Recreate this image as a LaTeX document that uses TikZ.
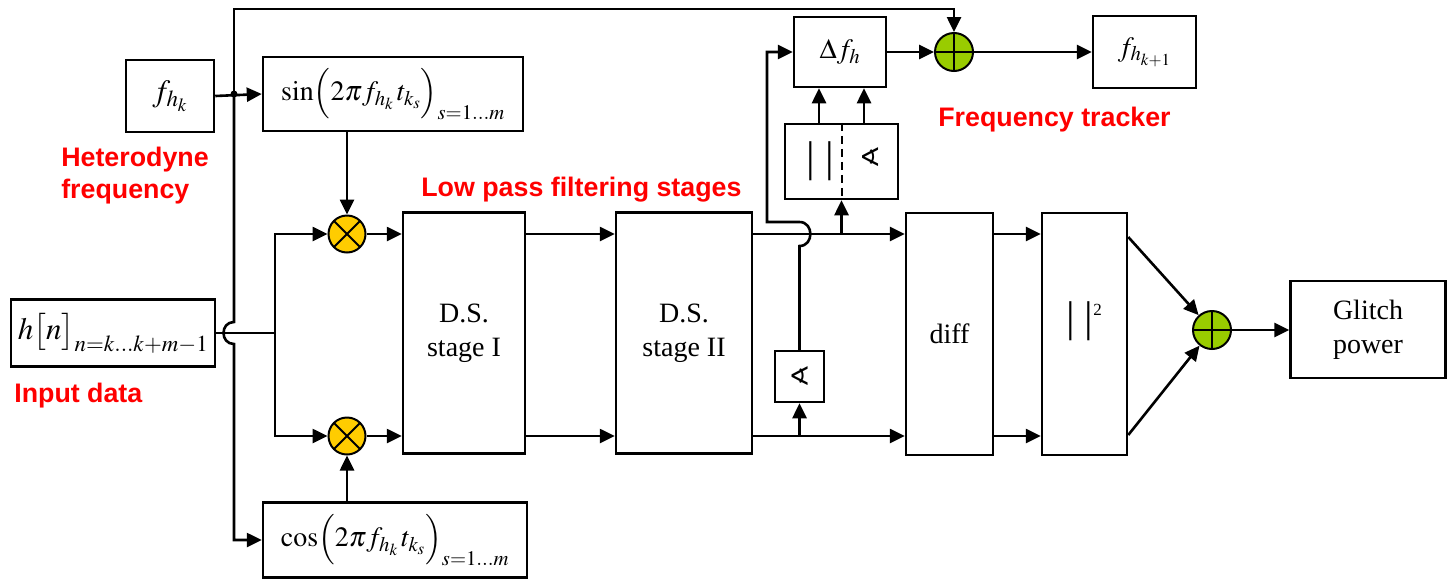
\documentclass[tikz,border=0pt]{standalone}
\usepackage{mathptmx}
\usepackage[no-math]{fontspec}
\setmainfont{Liberation Serif}
\newfontfamily\labfont{Liberation Sans}
\newfontfamily\symfont{DejaVu Sans}
\usetikzlibrary{arrows.meta}
\definecolor{yel}{HTML}{FFCC00}
\definecolor{grn}{HTML}{99CC00}
\definecolor{lred}{HTML}{FF0000}
\begin{document}
\begin{tikzpicture}[x=1pt,y=-1pt,line width=2.6pt,
 >={Triangle[length=15pt,width=14pt]},
 box/.style={draw,line width=2.5pt,inner sep=0pt,align=center,font=\fontsize{28}{34}\selectfont},
 mult/.style={circle,draw,line width=2pt,fill=yel,minimum size=37pt,inner sep=0pt,
   path picture={\draw[line width=2pt] (path picture bounding box.north west)--(path picture bounding box.south east) (path picture bounding box.north east)--(path picture bounding box.south west);}},
 summ/.style={circle,draw,line width=2pt,fill=grn,minimum size=38pt,inner sep=0pt,
   path picture={\draw[line width=2pt] (path picture bounding box.north)--(path picture bounding box.south) (path picture bounding box.east)--(path picture bounding box.west);}},
 lab/.style={text=lred,font=\labfont\bfseries\fontsize{26.8}{32}\selectfont,inner sep=0pt},
 angsym/.style={font=\symfont\fontsize{26}{26}\selectfont,inner sep=0pt},
 bars/.style={font=\fontsize{43}{43}\selectfont,inner sep=0pt}]
\useasboundingbox (0,0) rectangle (1448,579);
% boxes
\node[box,minimum width=88pt,minimum height=72pt,font=\fontsize{31}{34}\selectfont] (fhk) at (170,96) {$f_{h_k}$};
\node[box,minimum width=260pt,minimum height=74pt] (sinb) at (393,94) {$\sin\!\Big(2\pi f_{h_k}\,t_{k_s}\Big)_{s=1\ldots m}$};
\node[box,minimum width=264pt,minimum height=75pt] (cosb) at (395,540) {$\cos\!\Big(2\pi f_{h_k}\,t_{k_s}\Big)_{s=1\ldots m}$};
\node[box,minimum width=204pt,minimum height=67pt,font=\fontsize{31}{34}\selectfont] (hn) at (113,333) {$h\bigl[n\bigr]_{n=k\ldots k+m-1}$};
\node[mult] (m1) at (347,234) {};
\node[mult] (m2) at (347,436) {};
\node[box,minimum width=122pt,minimum height=241pt] (ds1) at (464,333) {D.S.\\stage I};
\node[box,minimum width=136pt,minimum height=241pt] (ds2) at (684,333) {D.S.\\stage II};
\node[box,minimum width=87pt,minimum height=242pt] (diff) at (949.5,334) {diff};
\node[box,minimum width=85pt,minimum height=242pt] (sq) at (1084.5,334) {};
\node[bars] (sqt) at (1084,321) {|\hspace{10pt}|\raisebox{16pt}{\fontsize{17}{17}\selectfont 2}};
\node[summ] (s2) at (1212,330) {};
\node[box,minimum width=155pt,minimum height=97pt] (gp) at (1368,329.5) {Glitch\\power};
\node[box,minimum width=92pt,minimum height=70pt] (df) at (840,52) {$\Delta f_h$};
\node[summ] (s1) at (954,52) {};
\node[box,minimum width=103pt,minimum height=72pt] (fk1) at (1144.5,52) {$f_{h_{k+1}}$};
\node[box,minimum width=113pt,minimum height=75pt] (dbox) at (841.5,161.5) {};
\draw[dash pattern=on 8pt off 5pt,line width=2pt] (dbox.north) -- (dbox.south);
\node[bars] (dbars) at (820.5,161.5) {|\hspace{10pt}|};
\node[angsym] (dang) at (870,157) {∢};
\node[box,minimum width=49pt,minimum height=51pt,font=\symfont\fontsize{26}{26}\selectfont] (ang) at (799.5,376.5) {∢};
% labels
\node[lab,anchor=west,align=left] (lhet) at (60,176) {Heterodyne\\frequency};
\node[lab,anchor=west] (linp) at (13,396) {Input data};
\node[lab,anchor=west] (llp) at (420,190) {Low pass filtering stages};
\node[lab,anchor=west] (lft) at (937,120) {Frequency tracker};
% connectors
\coordinate (j) at (234,94);
\draw[->] (fhk.east) -- (sinb.west);
\fill (j) circle[radius=3.5];
\draw[->] (j) -- (234,9) -| (s1.north);
\draw[->] (j) -- (234,322) .. controls (220,322) and (220,344) .. (234,344) -- (234,540) -- (cosb.west);
\coordinate (br) at (275,333);
\draw[line width=1.8pt] (hn.east) -- (br);
\draw[->] (br) |- (m1.west);
\draw[->] (br) |- (m2.west);
\draw[->] (sinb.south -| m1) -- (m1.north);
\draw[->] (cosb.north -| m2) -- (m2.south);
\draw[->] (m1.east) -- (ds1.west |- m1);
\draw[->] (m2.east) -- (ds1.west |- m2);
\draw[->] (ds1.east |- m1) -- (ds2.west |- m1);
\draw[->] (ds1.east |- m2) -- (ds2.west |- m2);
\draw[->] (ds2.east |- m1) -- (diff.west |- m1);
\draw[->] (ds2.east |- m2) -- (diff.west |- m2);
\draw[->] (diff.east |- m1) -- (sq.west |- m1);
\draw[->] (diff.east |- m2) -- (sq.west |- m2);
\coordinate (t1) at (dbox.south |- m1);
\draw[->] (t1) -- (dbox.south);
\coordinate (t2) at (ang.south |- m2);
\draw[->] (t2) -- (ang.south);
\draw[->] (ang.north) -- (799.5,246) .. controls (814,246) and (814,222) .. (799.5,222) -- (767,222) |- (df.west);
\draw[->] ([xshift=-22.5pt]dbox.north) -- ([xshift=-22.5pt]dbox.north |- df.south);
\draw[->] ([xshift=22.5pt]dbox.north) -- ([xshift=22.5pt]dbox.north |- df.south);
\draw[->] (df.east) -- (s1.west);
\draw[->] (s1.east) -- (fk1.west);
\draw[->] (sq.east |- 0,237) -- (s2);
\draw[->] (sq.east |- 0,435) -- (s2);
\draw[->] (s2.east) -- (gp.west |- s2);
\end{tikzpicture}
\end{document}
